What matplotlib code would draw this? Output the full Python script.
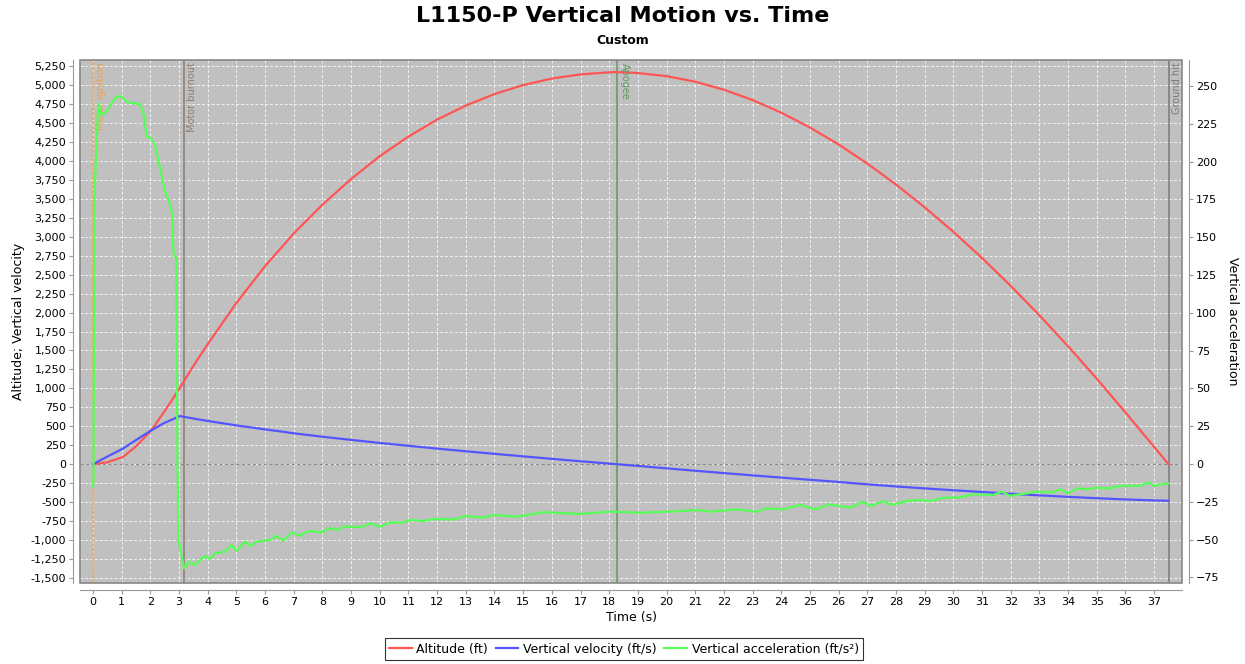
import matplotlib.pyplot as plt
from matplotlib.ticker import FuncFormatter, MultipleLocator
from matplotlib.patches import Rectangle

# Altitude (ft)
t_alt = [0, 0.5, 1.05, 1.5, 2.04, 2.5, 2.98, 3.5, 4, 5, 6, 7, 8, 9, 10, 11, 12, 13, 14, 15, 16, 17, 18, 18.27,
         19, 20, 21, 22, 23, 24, 25, 26, 27, 28, 29, 30, 31, 32, 33, 34, 35, 36, 37, 37.5]
altitude = [0, 25, 96, 235, 448, 700, 976, 1295, 1582, 2126, 2612, 3042, 3421, 3761, 4062, 4320, 4544, 4729,
            4881, 4999, 5086, 5140, 5168, 5170,
            5158, 5117, 5044, 4938, 4802, 4635, 4439, 4216, 3964, 3688, 3387, 3064, 2719, 2351, 1963, 1555,
            1127, 682, 228, 0]

# Vertical velocity (ft/s)
t_vel = [0, 0.5, 1.05, 1.5, 2.04, 2.45, 3.03, 3.5, 4, 5, 6, 6.52, 7, 8, 9, 10, 11, 12, 13, 14, 15, 16, 17, 18,
         18.27, 19, 20, 21, 22, 23, 24, 25, 26, 27, 28, 29, 30, 31, 32, 33, 34, 35, 36, 37, 37.5]
velocity = [0, 100, 207, 318, 448, 537, 635, 603, 571, 512, 459, 434, 408, 363, 321, 281, 243, 206, 171, 137,
            104, 71, 39, 8, 0, -22, -54, -86, -117, -147, -176, -205, -234, -265, -293, -319, -343, -366, -389,
            -410, -430, -448, -464, -477, -482]

# Vertical acceleration (ft/s^2)
t_acc = [0, 0.02, 0.05, 0.13, 0.19, 0.3, 0.48, 0.65, 0.82, 0.99, 1.17, 1.41, 1.64, 1.76, 1.88, 2.04, 2.16,
         2.33, 2.45, 2.57, 2.63, 2.71, 2.78, 2.8, 2.91, 2.94, 2.98, 3.18,
         3.38, 3.55, 3.91, 4.08, 4.26, 4.6, 4.83, 5.01, 5.3, 5.5, 5.71, 6.17, 6.4, 6.64, 6.93, 7.21, 7.51,
         7.98, 8.27, 8.55, 8.73, 9.43, 9.66, 10.0, 10.36, 10.82, 11.05, 11.51, 11.87, 12.56, 13.03, 13.6, 13.96,
         14.78, 15.7, 16.98, 18.03, 19.07, 20.11, 21.05, 21.51, 22.45, 23.14, 23.49, 24.07, 24.65, 25.18, 25.7,
         26.4, 26.86, 27.09, 27.56, 27.84, 28.37, 28.84, 29.18, 29.65, 30.23, 30.69, 31.39, 31.69, 31.97, 32.56,
         32.85, 33.48, 33.72, 34.01, 34.3, 34.64, 35.0, 35.46, 35.81, 36.51, 36.8, 36.98, 37.49]
acceleration = [-15, -10, 175, 214, 238.6, 230.8, 233, 238.6, 243, 243, 239.6, 238.6, 238, 232, 216.5, 215.4,
                211, 196.6, 185.7, 176.8, 175.7, 170, 163.6, 141.5, 135, 20, -50, -69,
                -64.6, -66.8, -60.8, -62.8, -59, -58, -53.6, -57.5, -51.4, -54.2, -51.4, -50.3, -47.4, -50.7,
                -45.2, -47.4, -44.3, -45.2, -42.5, -43.7, -41.5, -41.5, -39.2, -41.5, -38.6, -38.8, -37, -37.7,
                -36.4, -36.6, -34.4, -35.5, -33.7,
                -34.8, -31.9, -33, -31.5, -32.2, -31.5, -30.4, -31.5, -30, -31.5, -29.3, -30, -27.1, -30, -26.7,
                -28.9, -24.9, -27.8, -24.5, -27.1, -24.5, -23.8, -24.5, -22.3, -22, -20, -20.5, -18.3, -21,
                -19.4, -18.3, -18.7, -16.7, -19.4, -16.1, -16.7, -15.7, -16.1, -14.4, -14.4, -12.1, -14.4, -12.8]

# Flight events
event_names = ['Motor ignition', 'Motor burnout', 'Apogee', 'Ground hit']
event_times = [0.0, 3.17, 18.27, 37.5]
event_colors = ['#F0A050', '#8A7D72', '#5E9A5E', '#7A7A7A']
event_rot = [90, 90, 270, 90]

fig = plt.figure(figsize=(12.45, 6.64), dpi=100)
ax1 = fig.add_axes([80 / 1245, 1 - 583 / 664, 1102 / 1245, 523 / 664])
ax1.set_facecolor('#C0C0C0')
ax2 = ax1.twinx()

l1, = ax1.plot(t_alt, altitude, color='#FF5555', lw=1.6, label='Altitude (ft)')
l2, = ax1.plot(t_vel, velocity, color='#5555FF', lw=1.6, label='Vertical velocity (ft/s)')
l3, = ax2.plot(t_acc, acceleration, color='#55FF55', lw=1.6, label='Vertical acceleration (ft/s²)')

ax1.set_xlim(-0.45, 37.97)
ax1.set_ylim(-1566, 5330)
ax2.set_ylim(-78.7, 267.2)
ax1.axhline(0, color='#8C8C8C', lw=0.8, ls=(0, (3, 2)), zorder=1)

for name, tx, col, rot in zip(event_names, event_times, event_colors, event_rot):
    ls = (0, (2, 1)) if name == 'Motor ignition' else '-'
    ax1.axvline(tx, color=col, lw=1.1, ls=ls, zorder=1.5)
    if rot == 90:
        ax1.text(tx + 0.12, 5300, name, rotation=90, color=col, fontsize=7, ha='left', va='top')
    else:
        ax1.text(tx + 0.12, 5290, name, rotation=270, color=col, fontsize=7, ha='left', va='top')

ax1.xaxis.set_major_locator(MultipleLocator(1))
ax1.yaxis.set_major_locator(MultipleLocator(250))
ax2.yaxis.set_major_locator(MultipleLocator(25))
ax1.yaxis.set_major_formatter(FuncFormatter(lambda v, p: f'{int(v):,}'))
ax1.grid(True, color='white', ls=(0, (3, 2)), lw=0.7, alpha=0.8)
ax1.set_axisbelow(True)

for ax in (ax1, ax2):
    for s in ax.spines.values():
        s.set_visible(False)
for side in ('left', 'bottom'):
    ax1.spines[side].set_visible(True)
    ax1.spines[side].set_position(('outward', 5))
    ax1.spines[side].set_color('#999999')
ax2.spines['right'].set_visible(True)
ax2.spines['right'].set_position(('outward', 5))
ax2.spines['right'].set_color('#999999')
ax1.add_patch(Rectangle((0, 0), 1, 1, transform=ax1.transAxes, fill=False, edgecolor='#888888', lw=1.2,
                        zorder=5, clip_on=False))

ax1.tick_params(axis='both', labelsize=8, color='#999999', length=3, pad=2)
ax2.tick_params(axis='y', labelsize=8, color='#999999', length=3, pad=2)

ax1.set_xlabel('Time (s)', fontsize=9, labelpad=3)
ax1.set_ylabel('Altitude; Vertical velocity', fontsize=9, labelpad=4)
ax2.set_ylabel('Vertical acceleration', fontsize=9, rotation=270, labelpad=14)

fig.text(0.5, 1 - 16 / 664, 'L1150-P Vertical Motion vs. Time', ha='center', va='center',
         fontsize=16, fontweight='bold')
fig.text(0.5, 1 - 40 / 664, 'Custom', ha='center', va='center', fontsize=9, fontweight='bold')

leg = fig.legend(handles=[l1, l2, l3], loc='center', bbox_to_anchor=(624 / 1245, 1 - 649 / 664), ncol=3,
                 fontsize=9, frameon=True, fancybox=False, handlelength=1.8, handletextpad=0.4,
                 columnspacing=0.6, borderpad=0.35, edgecolor='black')
leg.get_frame().set_linewidth(0.8)

fig.savefig('out.png', dpi=100)
